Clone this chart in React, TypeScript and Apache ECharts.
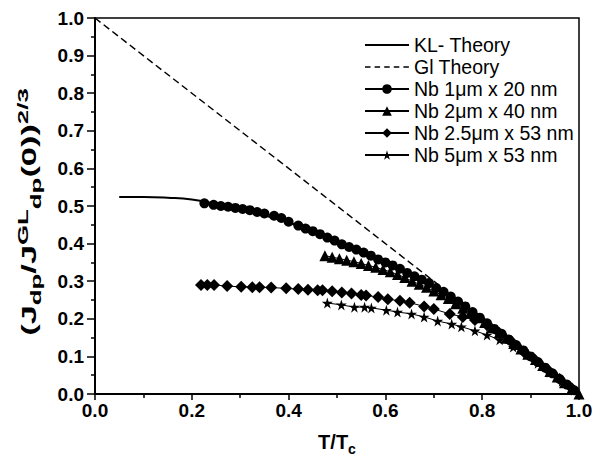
import React, { useEffect, useRef } from "react";
import * as echarts from "echarts";

const klTheory: [number, number][] = [
  [0.05, 0.524], [0.1, 0.524], [0.15, 0.522], [0.2, 0.517], [0.25, 0.505],
  [0.3, 0.491], [0.35, 0.475], [0.4, 0.456], [0.45, 0.432], [0.5, 0.404],
  [0.55, 0.377], [0.6, 0.348], [0.65, 0.318], [0.7, 0.285], [0.75, 0.245],
  [0.8, 0.197], [0.85, 0.15], [0.9, 0.101], [0.95, 0.052], [1.0, 0.0],
];

const glTheory: [number, number][] = [
  [0, 1], [1, 0],
];

const nb1um: [number, number][] = [
  [0.226, 0.507], [0.245, 0.503], [0.26, 0.5], [0.275, 0.498], [0.29, 0.495],
  [0.305, 0.492], [0.32, 0.489], [0.335, 0.484], [0.35, 0.48], [0.37, 0.474],
  [0.385, 0.468], [0.4, 0.458], [0.42, 0.448], [0.435, 0.44], [0.45, 0.433],
  [0.465, 0.425], [0.48, 0.416], [0.495, 0.408], [0.51, 0.398], [0.525, 0.391],
  [0.54, 0.384], [0.555, 0.376], [0.57, 0.368], [0.585, 0.358], [0.6, 0.35],
  [0.615, 0.342], [0.63, 0.333], [0.645, 0.322], [0.66, 0.313], [0.675, 0.304],
  [0.69, 0.295], [0.705, 0.282], [0.72, 0.272], [0.735, 0.259], [0.75, 0.246],
  [0.765, 0.233], [0.78, 0.218], [0.795, 0.203], [0.81, 0.188], [0.825, 0.173],
  [0.84, 0.16], [0.855, 0.145], [0.87, 0.13], [0.885, 0.116], [0.9, 0.1],
  [0.915, 0.085], [0.93, 0.07], [0.945, 0.055], [0.96, 0.04], [0.975, 0.025],
  [0.99, 0.01],
];

const nb2um: [number, number][] = [
  [0.475, 0.368], [0.49, 0.364], [0.505, 0.36], [0.52, 0.356], [0.535, 0.352],
  [0.55, 0.347], [0.565, 0.342], [0.58, 0.337], [0.595, 0.331], [0.61, 0.325],
  [0.625, 0.318], [0.64, 0.31], [0.655, 0.3], [0.67, 0.292], [0.685, 0.284],
  [0.7, 0.274], [0.715, 0.264], [0.73, 0.254], [0.745, 0.24], [0.76, 0.228],
  [0.775, 0.215], [0.79, 0.203], [0.805, 0.19], [0.82, 0.176], [0.835, 0.162],
  [0.85, 0.148], [0.865, 0.134], [0.88, 0.12], [0.895, 0.106], [0.91, 0.092],
  [0.925, 0.076], [0.94, 0.06], [0.955, 0.045], [0.97, 0.03], [0.985, 0.014],
  [1.0, 0.0],
];

const nb25um: [number, number][] = [
  [0.219, 0.29], [0.232, 0.29], [0.246, 0.29], [0.273, 0.287], [0.302, 0.285],
  [0.325, 0.284], [0.34, 0.284], [0.364, 0.283], [0.395, 0.281], [0.42, 0.279],
  [0.44, 0.277], [0.46, 0.276], [0.47, 0.276], [0.49, 0.273], [0.51, 0.27],
  [0.53, 0.267], [0.55, 0.263], [0.56, 0.262], [0.585, 0.258], [0.605, 0.252],
  [0.63, 0.248], [0.65, 0.243], [0.68, 0.233], [0.7, 0.226], [0.733, 0.213],
  [0.76, 0.205], [0.785, 0.197], [0.81, 0.183], [0.835, 0.163], [0.86, 0.14],
  [0.885, 0.113], [0.91, 0.09], [0.935, 0.065], [0.96, 0.04], [0.985, 0.015],
];

const nb5um: [number, number][] = [
  [0.48, 0.242], [0.509, 0.237], [0.536, 0.231], [0.557, 0.231], [0.571, 0.229],
  [0.602, 0.223], [0.625, 0.218], [0.654, 0.213], [0.68, 0.205], [0.708, 0.194],
  [0.737, 0.186], [0.757, 0.179], [0.785, 0.168], [0.81, 0.157], [0.836, 0.144],
  [0.864, 0.125], [0.89, 0.105], [0.915, 0.082], [0.94, 0.058], [0.965, 0.034],
  [0.99, 0.01],
];

const seriesNames = [
  "KL- Theory",
  "Gl Theory",
  "Nb 1μm x 20 nm",
  "Nb 2μm x 40 nm",
  "Nb 2.5μm x 53 nm",
  "Nb 5μm x 53 nm",
];

const yTitle = "{m|(J}{s|dp}{m|/J}{p|GL}{s|dp}{m|(0))}{p|2/3}";
const xTitle = "T/T{s|c}";

const STAR =
  "path://M50,0 L61,35 L98,35 L68,57 L79,91 L50,70 L21,91 L32,57 L2,35 L39,35 Z";

// legend icons (44 x 12 box; zero-area anchors fix the bounding box)
const ICON_SOLID = "path://M0,0 L0.01,0 M44,12 L43.99,12 M0,5.1 L44,5.1 L44,6.9 L0,6.9 Z";
const ICON_DASH =
  "path://M0,0 L0.01,0 M44,12 L43.99,12 " +
  "M0,5.25 L5.5,5.25 L5.5,6.75 L0,6.75 Z " +
  "M9.6,5.25 L15.1,5.25 L15.1,6.75 L9.6,6.75 Z " +
  "M19.2,5.25 L24.7,5.25 L24.7,6.75 L19.2,6.75 Z " +
  "M28.8,5.25 L34.3,5.25 L34.3,6.75 L28.8,6.75 Z " +
  "M38.4,5.25 L43.9,5.25 L43.9,6.75 L38.4,6.75 Z";

const FONT = "Liberation Sans";

export default function App() {
  const ref = useRef<HTMLDivElement>(null);
  useEffect(() => {
    if (!ref.current) return;
    const chart = echarts.init(ref.current, undefined, { renderer: "svg" });
    const markerSeries = (
      name: string,
      data: [number, number][],
      symbol: string,
      size: number
    ) => ({
      name,
      type: "line",
      data,
      symbol,
      symbolSize: size,
      showSymbol: true,
      itemStyle: { color: "#000" },
      lineStyle: { color: "#000", width: 1 },
      z: 3,
    });
    chart.setOption({
      animation: false,
      backgroundColor: "#fff",
      textStyle: { fontFamily: FONT },
      grid: {
        left: 95,
        right: 32,
        top: 18,
        bottom: 74,
        show: true,
        borderColor: "#000",
        borderWidth: 1.5,
        backgroundColor: "transparent",
      },
      graphic: [
        {
          type: "text",
          x: 29,
          y: 212,
          rotation: Math.PI / 2,
          scaleX: 1.72,
          scaleY: 1,
          style: {
            text: yTitle,
            align: "center",
            verticalAlign: "middle",
            fill: "#000",
            rich: {
              m: { fontSize: 20, fontWeight: "bold", lineHeight: 28, fontFamily: FONT, fill: "#000" },
              s: { fontSize: 15, fontWeight: "bold", lineHeight: 14, verticalAlign: "bottom", fontFamily: FONT, fill: "#000" },
              p: { fontSize: 15, fontWeight: "bold", lineHeight: 14, verticalAlign: "top", fontFamily: FONT, fill: "#000" },
            },
          },
        },
      ],
      legend: {
        left: 359,
        top: 29,
        orient: "vertical",
        itemWidth: 44,
        itemHeight: 12,
        itemGap: 0,
        data: [
          { name: seriesNames[0], icon: ICON_SOLID, itemStyle: { borderWidth: 0 } },
          { name: seriesNames[1], icon: ICON_DASH, itemStyle: { borderWidth: 0 } },
          seriesNames[2],
          seriesNames[3],
          seriesNames[4],
          seriesNames[5],
        ],
        textStyle: { fontSize: 19.5, lineHeight: 22, color: "#000", fontFamily: FONT },
      },
      xAxis: {
        type: "value",
        min: 0,
        max: 1,
        interval: 0.2,
        name: xTitle,
        nameLocation: "middle",
        nameGap: 34,
        nameTextStyle: {
          fontSize: 20,
          fontWeight: "bold",
          color: "#000",
          fontFamily: FONT,
          lineHeight: 28,
          rich: {
            s: {
              fontSize: 14,
              fontWeight: "bold",
              lineHeight: 13,
              verticalAlign: "bottom",
              fontFamily: FONT,
            },
          },
        },
        axisLine: { show: true, lineStyle: { color: "#000", width: 2 } },
        axisTick: { show: true, length: 6, lineStyle: { color: "#000", width: 1.5 } },
        minorTick: { show: true, splitNumber: 2, length: 4, lineStyle: { color: "#000", width: 1.5 } },
        splitLine: { show: false },
        axisLabel: {
          fontSize: 19,
          fontWeight: "bold",
          color: "#000",
          margin: 7,
          fontFamily: FONT,
          formatter: (v: number) => v.toFixed(1),
        },
      },
      yAxis: {
        type: "value",
        min: 0,
        max: 1,
        interval: 0.1,
        axisLine: { show: true, lineStyle: { color: "#000", width: 2 } },
        axisTick: { show: true, length: 8, lineStyle: { color: "#000", width: 1.5 } },
        minorTick: { show: true, splitNumber: 2, length: 4, lineStyle: { color: "#000", width: 1.5 } },
        splitLine: { show: false },
        axisLabel: {
          fontSize: 19,
          fontWeight: "bold",
          color: "#000",
          margin: 11,
          fontFamily: FONT,
          formatter: (v: number) => v.toFixed(1),
        },
      },
      series: [
        {
          name: seriesNames[0],
          type: "line",
          data: klTheory,
          smooth: true,
          symbol: "none",
          itemStyle: { color: "#000" },
          lineStyle: { color: "#000", width: 2 },
          z: 2,
        },
        {
          name: seriesNames[1],
          type: "line",
          data: glTheory,
          symbol: "none",
          itemStyle: { color: "#000" },
          lineStyle: { color: "#000", width: 1.5, type: [7, 4] },
          z: 2,
        },
        markerSeries(seriesNames[2], nb1um, "circle", 10),
        markerSeries(seriesNames[3], nb2um, "triangle", 11),
        markerSeries(seriesNames[4], nb25um, "diamond", 12),
        markerSeries(seriesNames[5], nb5um, STAR, 11),
      ],
    });
    return () => chart.dispose();
  }, []);
  return <div ref={ref} style={{ width: 611, height: 468, position: "absolute", left: 0, top: 0 }} />;
}
